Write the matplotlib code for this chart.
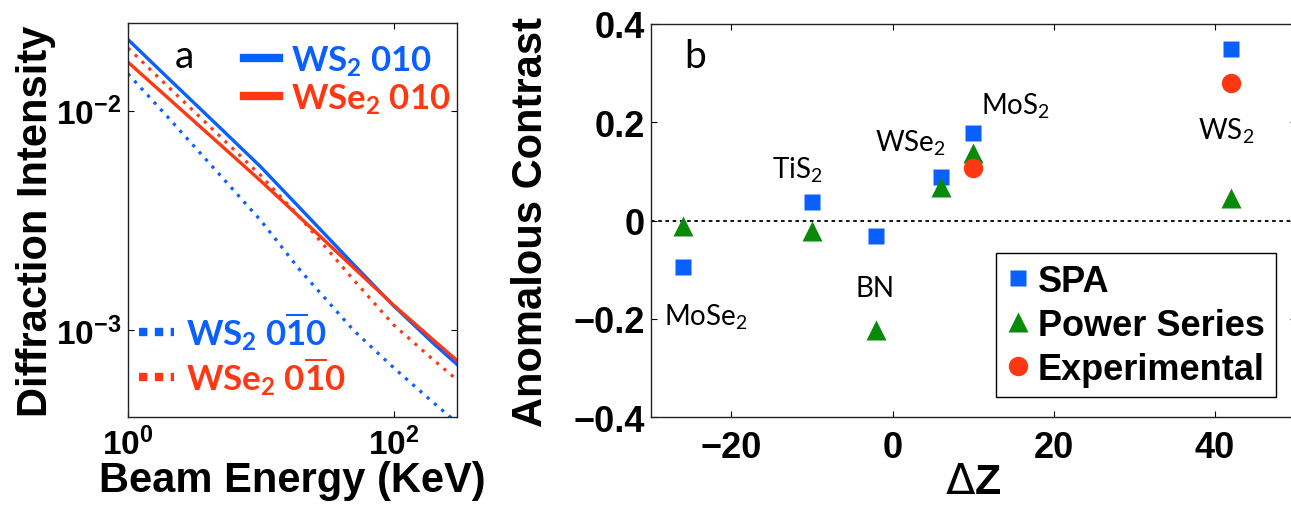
import numpy as np
import matplotlib
matplotlib.use('Agg')
import matplotlib.pyplot as plt
from matplotlib.lines import Line2D

plt.rcParams['font.family'] = ['Liberation Sans', 'DejaVu Sans']
plt.rcParams['mathtext.default'] = 'regular'

# panel a: intensity vs beam energy
energy_kev = [1, 2, 5, 10, 20, 50, 100, 200, 300]
ws2_010 = [0.02109, 0.01409, 0.008299, 0.005546, 0.003573, 0.001995, 0.001294, 0.000871, 0.000700]
wse2_010 = [0.01663, 0.01143, 0.006966, 0.004786, 0.003240, 0.001928, 0.001303, 0.000902, 0.000730]
ws2_0m10 = [0.01472, 0.009333, 0.005047, 0.003162, 0.001862, 0.001000, 0.000676, 0.000468, 0.000380]
wse2_0m10 = [0.01928, 0.01288, 0.007586, 0.005070, 0.003236, 0.001698, 0.001059, 0.000733, 0.000596]

# panel b: anomalous contrast vs delta Z
materials = ['MoSe$_2$', 'TiS$_2$', 'BN', 'WSe$_2$', 'MoS$_2$', 'WS$_2$']
delta_z = [-26, -10, -2, 6, 10, 42]
spa = [-0.095, 0.037, -0.031, 0.088, 0.178, 0.349]
power_series = [-0.010, -0.022, -0.222, 0.069, 0.137, 0.047]
exp_dz = [10, 42]
experimental = [0.108, 0.279]
yticks_b = [-0.4, -0.2, 0, 0.2, 0.4]
yticklabels_b = ['\u22120.4', '\u22120.2', '0', '0.2', '0.4']
xticks_b = [-20, 0, 20, 40]
xticklabels_b = ['\u221220', '0', '20', '40']

# where the material names sit (data coords)
label_pos = [(-23.1, -0.195), (-11.8, 0.105), (-2.15, -0.136),
             (2.2, 0.160), (15.2, 0.234), (41.4, 0.183)]

BLUE = '#0a5fff'
RED = '#ff3814'
GREEN = '#0a8a0a'
DOT = (0, (1, 2))

fig = plt.figure(figsize=(12.91, 5.06), dpi=100)
ax1 = fig.add_axes([0.0991, 0.1739, 0.2548, 0.7787])
ax2 = fig.add_axes([0.504, 0.1733, 0.4996, 0.7773])

# ---- panel a
ax1.plot(energy_kev, ws2_010, color=BLUE, lw=2.4)
ax1.plot(energy_kev, wse2_010, color=RED, lw=2.4)
ax1.plot(energy_kev, ws2_0m10, color=BLUE, lw=2.3, ls=DOT)
ax1.plot(energy_kev, wse2_0m10, color=RED, lw=2.3, ls=DOT)
ax1.set_xscale('log')
ax1.set_yscale('log')
ax1.set_xlim(1, 300)
ax1.set_ylim(4.03e-4, 2.506e-2)
ax1.set_xticks([1, 100])
ax1.set_yticks([1e-3, 1e-2])
ax1.minorticks_off()
ax1.tick_params(direction='in', length=4.5, width=0.8, top=True, right=True, labelsize=24)
ax1.tick_params(axis='x', pad=7)
ax1.tick_params(axis='y', pad=5)
for lab in ax1.get_xticklabels() + ax1.get_yticklabels():
    lab.set_fontweight('bold')
ax1.set_xlabel('Beam Energy (KeV)', fontsize=30, fontweight='bold', labelpad=-1)
ax1.set_ylabel('Diffraction Intensity', fontsize=30, fontweight='bold', labelpad=0)
ax1.text(0.173, 0.916, 'a', transform=ax1.transAxes, fontsize=28,
         family='Lato', ha='center', va='center')

h_solid = [Line2D([], [], color=BLUE, lw=6), Line2D([], [], color=RED, lw=6)]
leg1 = ax1.legend(h_solid, ['WS$_2$ 010', 'WSe$_2$ 010'], loc='upper left',
                  bbox_to_anchor=(0.28, 1.01), frameon=False,
                  prop={'family': 'Lato', 'weight': 'bold', 'size': 25},
                  handlelength=1.0, handletextpad=0.35, labelspacing=0.1,
                  borderaxespad=0.3)
for t, c in zip(leg1.get_texts(), [BLUE, RED]):
    t.set_color(c)
ax1.add_artist(leg1)
h_dot = [Line2D([], [], color=BLUE, lw=6, ls=(0, (1, 0.9))),
         Line2D([], [], color=RED, lw=6, ls=(0, (1, 0.9)))]
leg2 = ax1.legend(h_dot, ['WS$_2$ 0$\\overline{1}$0', 'WSe$_2$ 0$\\overline{1}$0'],
                  loc='lower left', bbox_to_anchor=(-0.04, -0.01), frameon=False,
                  prop={'family': 'Lato', 'weight': 'bold', 'size': 25},
                  handlelength=1.0, handletextpad=0.35, labelspacing=0.05,
                  borderaxespad=0.3)
for t, c in zip(leg2.get_texts(), [BLUE, RED]):
    t.set_color(c)

# ---- panel b
ax2.axhline(0, color='black', lw=1.3, ls=(0, (2, 2)), zorder=1)
ax2.plot(delta_z, spa, 's', color=BLUE, ms=12, mec='none', label='SPA', zorder=3)
ax2.plot(delta_z, power_series, '^', color=GREEN, ms=15, mec='none', label='Power Series', zorder=3)
ax2.plot(exp_dz, experimental, 'o', color=RED, ms=14, mec='none', label='Experimental', zorder=4)
for name, (x, y) in zip(materials, label_pos):
    ax2.text(x, y, name, family='Lato', fontsize=20, ha='center', va='center')
ax2.text(0.069, 0.919, 'b', transform=ax2.transAxes, fontsize=28,
         family='Lato', ha='center', va='center')
ax2.set_xlim(-30, 50)
ax2.set_ylim(-0.4, 0.4)
ax2.set_xticks(xticks_b)
ax2.set_xticklabels(xticklabels_b)
ax2.set_yticks(yticks_b)
ax2.set_yticklabels(yticklabels_b)
ax2.tick_params(direction='in', length=4.5, width=0.8, top=True, right=True, labelsize=26)
ax2.tick_params(axis='x', pad=9)
ax2.tick_params(axis='y', pad=4)
for lab in ax2.get_xticklabels() + ax2.get_yticklabels():
    lab.set_fontweight('bold')
ax2.set_xlabel('$\\mathrm{\\Delta}$Z', fontsize=31, fontweight='bold', labelpad=-2)
ax2.set_ylabel('Anomalous Contrast', fontsize=30, fontweight='bold', labelpad=16)
leg = ax2.legend(loc='lower left', bbox_to_anchor=(0.5354, 0.0505, 0.434, 0.3775),
                 mode='expand', borderaxespad=0, frameon=True, fancybox=False,
                 edgecolor='black', framealpha=1, prop={'weight': 'bold', 'size': 26},
                 handlelength=0.6, handletextpad=0.25, labelspacing=0.25,
                 borderpad=0.3, numpoints=1)
leg.get_frame().set_linewidth(1.0)

for ax in (ax1, ax2):
    for s in ax.spines.values():
        s.set_linewidth(1.0)
        s.set_color('#222222')

fig.savefig('out.png', dpi=100)
